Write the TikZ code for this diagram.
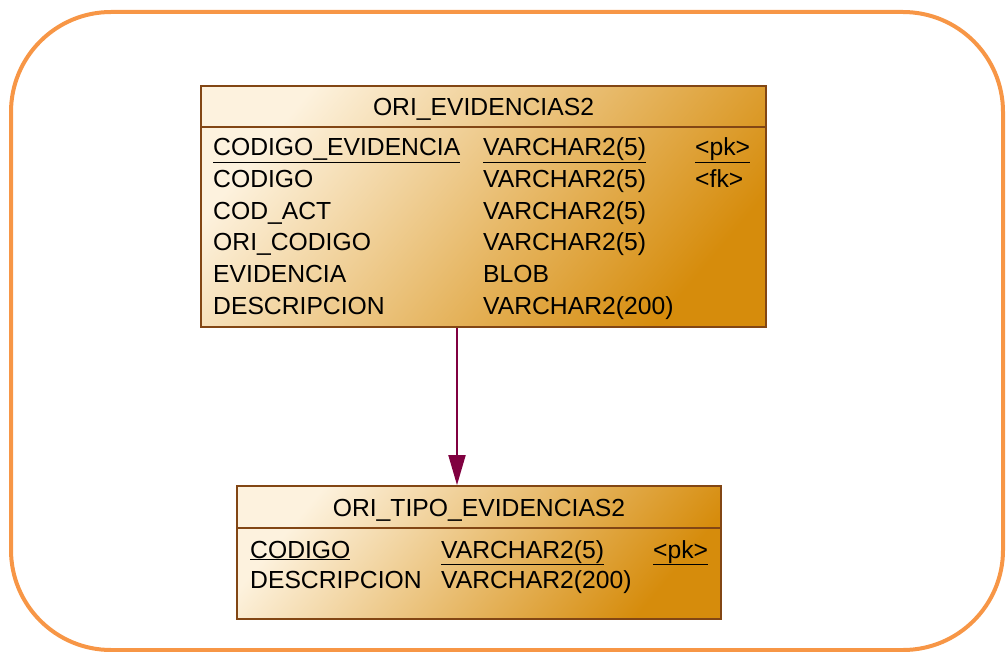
\documentclass[tikz,border=0pt]{standalone}
\usepackage{fontspec}
\setmainfont{Liberation Sans}
\usetikzlibrary{arrows.meta}
\definecolor{framecol}{RGB}{247,150,70}
\definecolor{lightfill}{RGB}{253,242,222}
\definecolor{darkfill}{RGB}{214,140,12}
\definecolor{bordercol}{RGB}{130,70,20}
\definecolor{fkcol}{RGB}{128,0,64}
\tikzset{
  tbl/.style={draw=bordercol, line width=1.8pt, inner sep=0pt, top color=lightfill, bottom color=darkfill, shading angle=50},
  sep/.style={draw=bordercol, line width=1.8pt},
  txt/.style={anchor=base west, inner sep=0pt, font=\fontsize{24.7}{29}\selectfont},
  htxt/.style={anchor=base, inner sep=0pt, font=\fontsize{24.7}{29}\selectfont},
  frame/.style={draw=framecol, line width=4pt, rounded corners=100pt},
  fk/.style={draw=fkcol, line width=2pt, -{Triangle[length=30pt,width=17pt]}}
}
\newcommand{\ul}[1]{\underline{#1}}
\begin{document}
\begin{tikzpicture}[x=1pt,y=-1pt]
\useasboundingbox (0,0) rectangle (1008,652);
\draw[frame] (11,12) rectangle (1003,650);
% table 1
\node[tbl, minimum width=565pt, minimum height=241pt] (t1) at (483.5,206.5) {};
\draw[sep] ([yshift=-42pt]t1.north west) -- ([yshift=-42pt]t1.north east);
\node[htxt] (t1h) at (483.5,116) {ORI\_EVIDENCIAS2};
\node[txt] (a1) at (213,156) {\ul{CODIGO\_EVIDENCIA}};
\node[txt] (b1) at (483,156) {\ul{VARCHAR2(5)}};
\node[txt] (c1) at (695,156) {\ul{<pk>}};
\node[txt] (a2) at (213,188) {CODIGO};
\node[txt] (b2) at (483,188) {VARCHAR2(5)};
\node[txt] (c2) at (695,188) {<fk>};
\node[txt] (a3) at (213,219.5) {COD\_ACT};
\node[txt] (b3) at (483,219.5) {VARCHAR2(5)};
\node[txt] (a4) at (213,251) {ORI\_CODIGO};
\node[txt] (b4) at (483,251) {VARCHAR2(5)};
\node[txt] (a5) at (213,282.5) {EVIDENCIA};
\node[txt] (b5) at (483,282.5) {BLOB};
\node[txt] (a6) at (213,314) {DESCRIPCION};
\node[txt] (b6) at (483,314) {VARCHAR2(200)};
% table 2
\node[tbl, minimum width=484pt, minimum height=133pt] (t2) at (479,552.5) {};
\draw[sep] ([yshift=-43pt]t2.north west) -- ([yshift=-43pt]t2.north east);
\node[htxt] (t2h) at (479,516.5) {ORI\_TIPO\_EVIDENCIAS2};
\node[txt] (d1) at (250,558) {\ul{CODIGO}};
\node[txt] (e1) at (441,558) {\ul{VARCHAR2(5)}};
\node[txt] (f1) at (653,558) {\ul{<pk>}};
\node[txt] (d2) at (250,588) {DESCRIPCION};
\node[txt] (e2) at (441,588) {VARCHAR2(200)};
% reference
\coordinate (ax) at (457,0);
\draw[fk] (ax |- t1.south) -- (ax |- t2.north);
\end{tikzpicture}
\end{document}
